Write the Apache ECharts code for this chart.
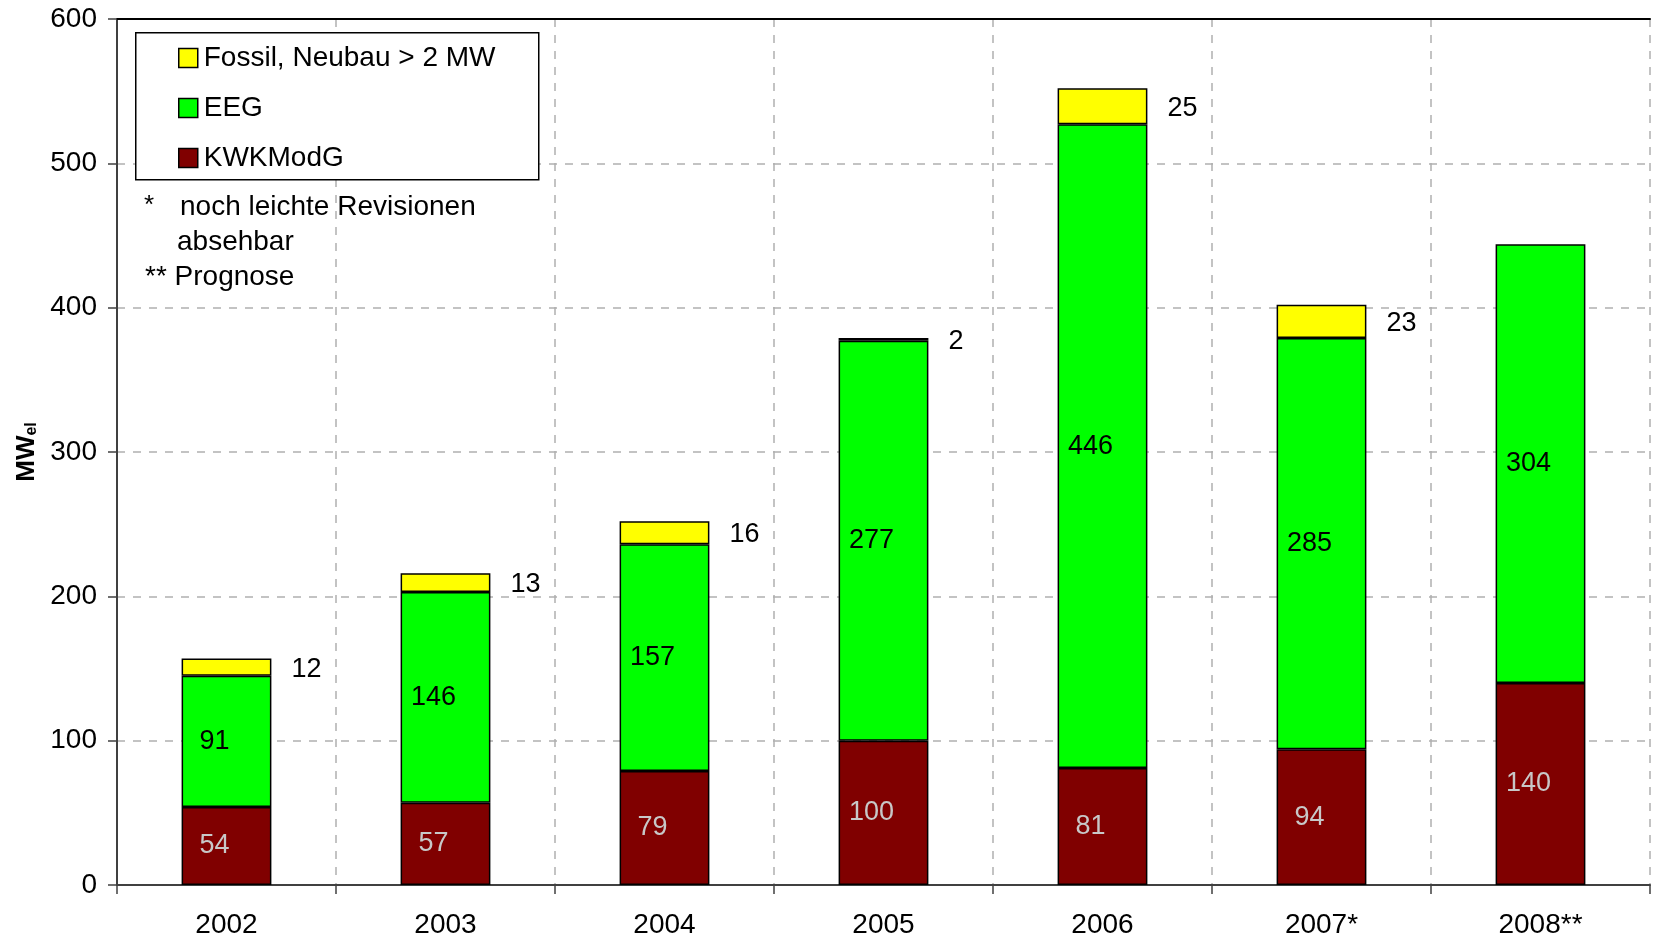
<!DOCTYPE html>
<html>
<head>
<meta charset="utf-8">
<script src="https://cdn.jsdelivr.net/npm/echarts@6/dist/echarts.min.js"></script>
<style>
  html, body { margin: 0; padding: 0; background: #fff; }
  #chart { width: 1654px; height: 940px; }
</style>
</head>
<body>
<div id="chart"></div>
<script>
const years = ['2002', '2003', '2004', '2005', '2006', '2007*', '2008**'];
const kwkModG = [54, 57, 79, 100, 81, 94, 140];
const eeg = [91, 146, 157, 277, 446, 285, 304];
const fossil = [12, 13, 16, 2, 25, 23, null];
const yTicks = [0, 100, 200, 300, 400, 500, 600];

const FONT = '"Liberation Sans", Arial, sans-serif';

let myChart = echarts.init(document.getElementById('chart'));

const barBase = {
  type: 'bar',
  stack: 'total',
  barWidth: '41%',
  itemStyle: { borderColor: '#000', borderWidth: 1.5 }
};

let option = {
  animation: false,
  textStyle: { fontFamily: FONT },
  grid: { left: 117, right: 4, top: 19, bottom: 55 },
  legend: {
    orient: 'vertical',
    left: 173,
    top: 38,
    z: 20,
    icon: 'rect',
    itemWidth: 19,
    itemHeight: 19,
    itemGap: 20,
    data: ['Fossil, Neubau > 2 MW', 'EEG', 'KWKModG'],
    itemStyle: { borderColor: '#000', borderWidth: 1.5 },
    textStyle: { fontSize: 28, color: '#000', lineHeight: 30, fontFamily: FONT, padding: [0, 0, 0, 1] }
  },
  xAxis: [
    {
      type: 'category',
      data: years,
      axisLine: { lineStyle: { color: '#404040', width: 2 } },
      axisTick: { show: true, interval: 0, length: 9, lineStyle: { color: '#404040', width: 1.5 } },
      axisLabel: { fontSize: 28, color: '#000', margin: 26, fontFamily: FONT },
      splitLine: { show: true, interval: 0, lineStyle: { color: '#b0b0b0', type: [8, 8], width: 1.5 } }
    },
    {
      type: 'category',
      position: 'top',
      data: years,
      axisLine: { lineStyle: { color: '#000', width: 2 } },
      axisTick: { show: false },
      axisLabel: { show: false }
    }
  ],
  yAxis: {
    type: 'value',
    min: yTicks[0],
    max: yTicks[yTicks.length - 1],
    interval: 100,
    name: '{mw|MW}{el|el}',
    nameLocation: 'middle',
    nameGap: 77,
    nameTextStyle: {
      rich: {
        mw: { fontSize: 26, fontWeight: 'bold', color: '#000', fontFamily: FONT },
        el: { fontSize: 16, fontWeight: 'bold', color: '#000', fontFamily: FONT, verticalAlign: 'bottom', padding: [8, 0, 0, 0] }
      }
    },
    axisLine: { show: true, lineStyle: { color: '#404040', width: 2 } },
    axisTick: { show: true, length: 9, lineStyle: { color: '#404040', width: 1.5 } },
    axisLabel: { fontSize: 28, color: '#000', margin: 20, fontFamily: FONT },
    splitLine: { show: true, lineStyle: { color: '#b0b0b0', type: [8, 8], width: 1.5 } }
  },
  series: [
    Object.assign({}, barBase, {
      name: 'KWKModG',
      data: kwkModG,
      itemStyle: { color: '#800000', borderColor: '#000', borderWidth: 1.5 },
      label: { show: true, position: 'inside', offset: [-12, 0], fontSize: 27, color: '#c8c8c8', fontFamily: FONT }
    }),
    Object.assign({}, barBase, {
      name: 'EEG',
      data: eeg,
      itemStyle: { color: '#00ff00', borderColor: '#000', borderWidth: 1.5 },
      label: { show: true, position: 'inside', offset: [-12, 0], fontSize: 27, color: '#000', fontFamily: FONT }
    }),
    Object.assign({}, barBase, {
      name: 'Fossil, Neubau > 2 MW',
      data: fossil,
      itemStyle: { color: '#ffff00', borderColor: '#000', borderWidth: 1.5 },
      label: { show: true, position: 'right', distance: 20, offset: [0, 2], fontSize: 27, color: '#000', fontFamily: FONT }
    })
  ],
  graphic: [
    {
      type: 'rect',
      left: 135, top: 32,
      z: 5,
      shape: { width: 403, height: 147 },
      style: { fill: '#fff', stroke: '#000', lineWidth: 1.5 }
    },
    { type: 'text', left: 144, top: 193, z: 10, style: { text: '*', fontSize: 26, fill: '#000', fontFamily: FONT } },
    { type: 'text', left: 180, top: 193, z: 10, style: { text: 'noch leichte Revisionen', fontSize: 28, fill: '#000', fontFamily: FONT } },
    { type: 'text', left: 177, top: 228, z: 10, style: { text: 'absehbar', fontSize: 28, fill: '#000', fontFamily: FONT } },
    { type: 'text', left: 145, top: 263, z: 10, style: { text: '** Prognose', fontSize: 28, fill: '#000', fontFamily: FONT } }
  ]
};

option && myChart.setOption(option);
</script>
</body>
</html>
